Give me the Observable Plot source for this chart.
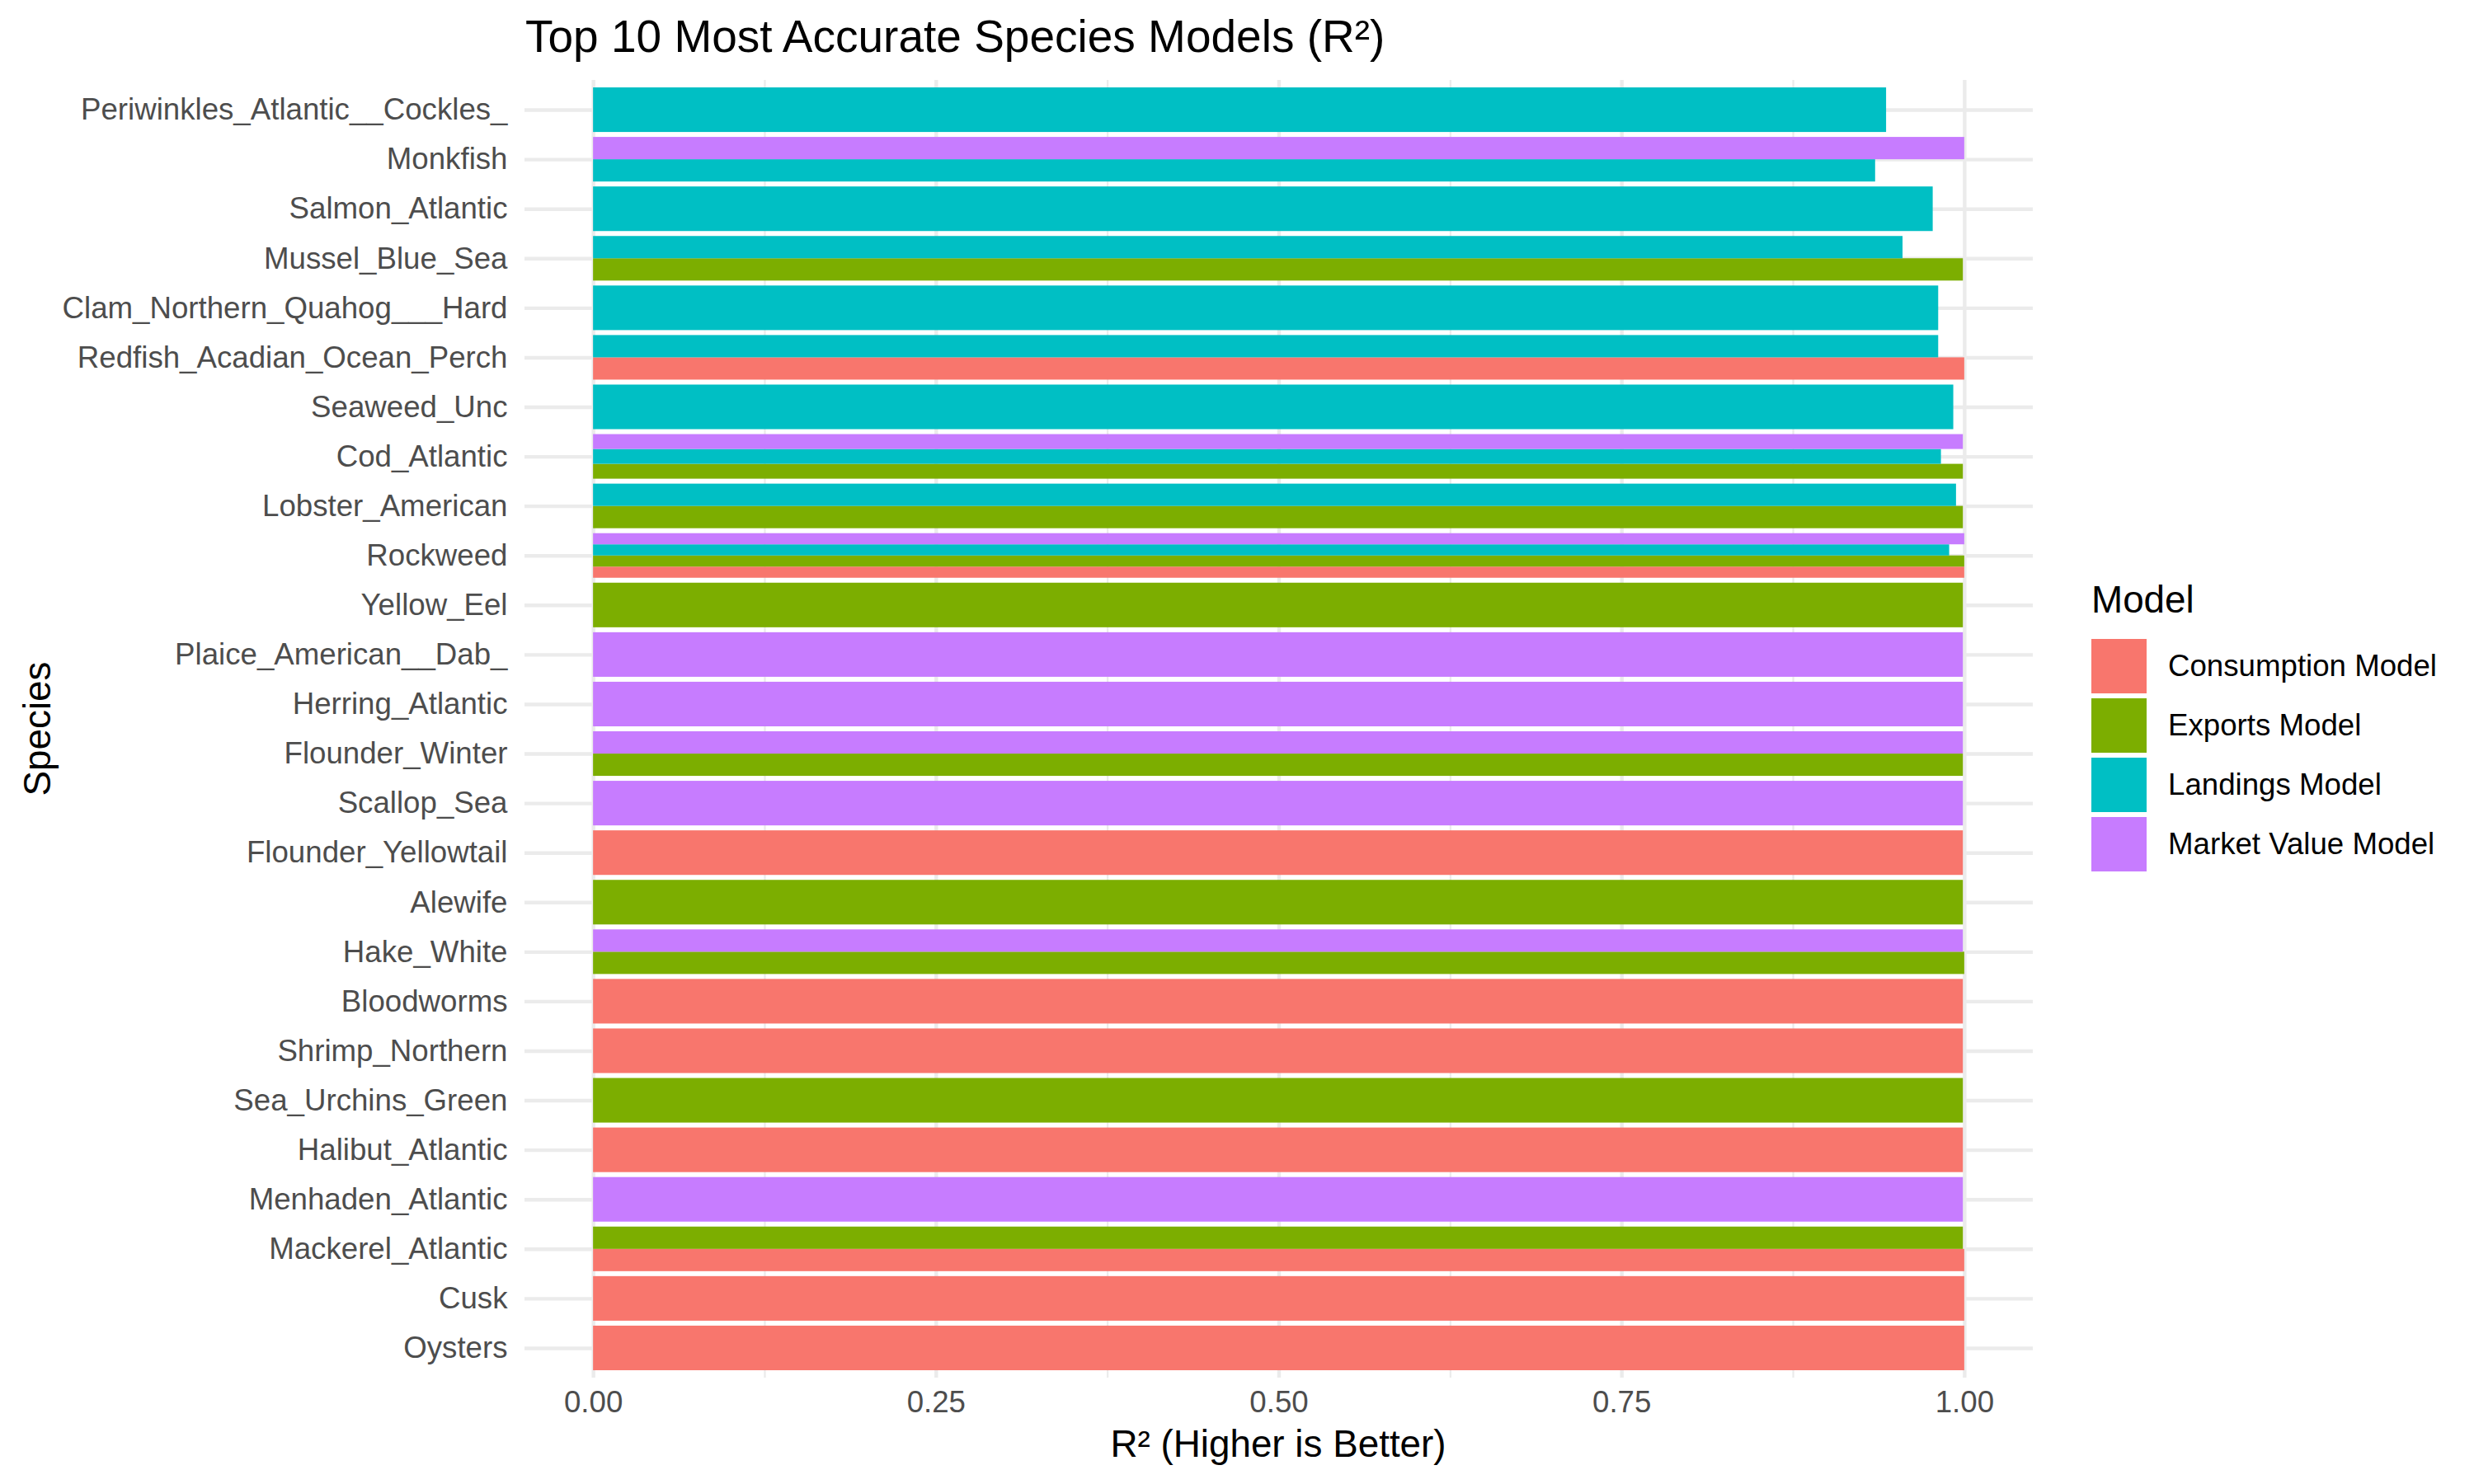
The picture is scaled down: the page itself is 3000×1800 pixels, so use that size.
<!DOCTYPE html>
<html>
<head>
<meta charset="utf-8">
<script src="https://cdn.jsdelivr.net/npm/d3@7"></script>
<script src="https://cdn.jsdelivr.net/npm/@observablehq/plot@0.6"></script>
<style>
  html, body { margin: 0; padding: 0; background: #fff; }
  #wrap { position: relative; width: 3000px; height: 1800px; font-family: "Liberation Sans", Arial, sans-serif; overflow: hidden; }
  #wrap svg { position: absolute; left: 0; top: 0; }
  .t { position: absolute; white-space: nowrap; line-height: 1; color: #000; }
</style>
</head>
<body>
<div id="wrap">
  <div class="t" id="title" style="left:637px; top:17px; font-size:55px;">Top 10 Most Accurate Species Models (R²)</div>
  <div class="t" id="xtitle" style="left:1550px; top:1752px; font-size:45.8px; transform:translate(-50%,-50%);">R² (Higher is Better)</div>
  <div class="t" id="ytitle" style="left:46px; top:884px; font-size:45.8px; transform:translate(-50%,-50%) rotate(-90deg);">Species</div>
  <div id="legend"></div>
</div>
<script>
// Species, top to bottom
const species = [
  "Periwinkles_Atlantic__Cockles_", "Monkfish", "Salmon_Atlantic", "Mussel_Blue_Sea",
  "Clam_Northern_Quahog___Hard", "Redfish_Acadian_Ocean_Perch", "Seaweed_Unc", "Cod_Atlantic",
  "Lobster_American", "Rockweed", "Yellow_Eel", "Plaice_American__Dab_", "Herring_Atlantic",
  "Flounder_Winter", "Scallop_Sea", "Flounder_Yellowtail", "Alewife", "Hake_White",
  "Bloodworms", "Shrimp_Northern", "Sea_Urchins_Green", "Halibut_Atlantic",
  "Menhaden_Atlantic", "Mackerel_Atlantic", "Cusk", "Oysters"
];

const models = ["Consumption Model", "Exports Model", "Landings Model", "Market Value Model"];
const modelColors = ["#F8766D", "#7CAE00", "#00BFC4", "#C77CFF"];

const consumptionSpecies = ["Redfish_Acadian_Ocean_Perch", "Rockweed", "Flounder_Yellowtail", "Bloodworms", "Shrimp_Northern", "Halibut_Atlantic", "Mackerel_Atlantic", "Cusk", "Oysters"];
const consumptionR2 = [1.000, 1.000, 0.999, 0.999, 0.999, 0.999, 1.000, 1.000, 1.000];

const exportsSpecies = ["Mussel_Blue_Sea", "Cod_Atlantic", "Lobster_American", "Rockweed", "Yellow_Eel", "Flounder_Winter", "Alewife", "Hake_White", "Sea_Urchins_Green", "Mackerel_Atlantic"];
const exportsR2 = [0.999, 0.999, 0.999, 1.000, 0.999, 0.999, 0.999, 1.000, 0.999, 0.999];

const landingsSpecies = ["Periwinkles_Atlantic__Cockles_", "Monkfish", "Salmon_Atlantic", "Mussel_Blue_Sea", "Clam_Northern_Quahog___Hard", "Redfish_Acadian_Ocean_Perch", "Seaweed_Unc", "Cod_Atlantic", "Lobster_American", "Rockweed"];
const landingsR2 = [0.943, 0.935, 0.977, 0.955, 0.981, 0.981, 0.992, 0.983, 0.994, 0.989];

const marketSpecies = ["Monkfish", "Cod_Atlantic", "Rockweed", "Plaice_American__Dab_", "Herring_Atlantic", "Flounder_Winter", "Scallop_Sea", "Hake_White", "Menhaden_Atlantic"];
const marketR2 = [1.000, 0.999, 1.000, 0.999, 0.999, 0.999, 0.999, 0.999, 0.999];

const xTicks = [0, 0.25, 0.5, 0.75, 1.0];
const xMinor = [0.125, 0.375, 0.625, 0.875];

// Build table
const rows = [];
[[consumptionSpecies, consumptionR2], [exportsSpecies, exportsR2], [landingsSpecies, landingsR2], [marketSpecies, marketR2]]
  .forEach(([sp, vals], m) => sp.forEach((s, j) => rows.push({species: s, model: models[m], value: vals[j]})));

// dodge (like ggplot position_dodge, width 0.9; first model at bottom)
const bySpecies = d3.group(rows, d => d.species);
for (const [s, arr] of bySpecies) {
  arr.sort((a, b) => models.indexOf(a.model) - models.indexOf(b.model));
  const n = arr.length, i = species.indexOf(s);
  arr.forEach((d, k) => {
    d.yb = i + 0.45 - k * 0.9 / n;
    d.yt = i + 0.45 - (k + 1) * 0.9 / n;
  });
}

const W = 3000, H = 1800;
const chart = Plot.plot({
  width: W, height: H,
  marginLeft: 636, marginRight: 535, marginTop: 97, marginBottom: 129,
  style: {fontFamily: "'Liberation Sans', Arial, sans-serif", background: "transparent"},
  x: {domain: [-0.05, 1.05]},
  y: {domain: [-0.6, species.length - 0.4], reverse: true},
  color: {domain: models, range: modelColors},
  marks: [
    Plot.gridX(xMinor, {stroke: "#EBEBEB", strokeOpacity: 1, strokeWidth: 2.2}),
    Plot.gridX(xTicks, {stroke: "#EBEBEB", strokeOpacity: 1, strokeWidth: 4.4}),
    Plot.gridY(d3.range(species.length), {stroke: "#EBEBEB", strokeOpacity: 1, strokeWidth: 4.4}),
    Plot.rect(rows, {x1: 0, x2: "value", y1: "yt", y2: "yb", fill: "model"}),
    Plot.axisX(xTicks, {tickFormat: d3.format(".2f"), tickSize: 0, tickPadding: 15, fontSize: 36.67, color: "#4D4D4D", label: null}),
    Plot.axisY(d3.range(species.length), {tickFormat: i => species[i], tickSize: 0, tickPadding: 21, fontSize: 36.67, color: "#4D4D4D", label: null})
  ]
});
document.getElementById("wrap").appendChild(chart);

// Legend
const lg = document.getElementById("legend");
const lt = document.createElement("div");
lt.className = "t"; lt.textContent = "Model";
Object.assign(lt.style, {left: "2536px", top: "705px", fontSize: "45.8px"});
lg.appendChild(lt);
models.forEach((m, k) => {
  const top = 775 + k * 72;
  const sw = document.createElement("div");
  Object.assign(sw.style, {position: "absolute", left: "2536px", top: top + "px", width: "67px", height: "66px", background: modelColors[k]});
  lg.appendChild(sw);
  const tx = document.createElement("div");
  tx.className = "t"; tx.textContent = m;
  Object.assign(tx.style, {left: "2629px", top: (top + 33) + "px", fontSize: "36.67px", transform: "translateY(-50%)"});
  lg.appendChild(tx);
});
</script>
</body>
</html>
